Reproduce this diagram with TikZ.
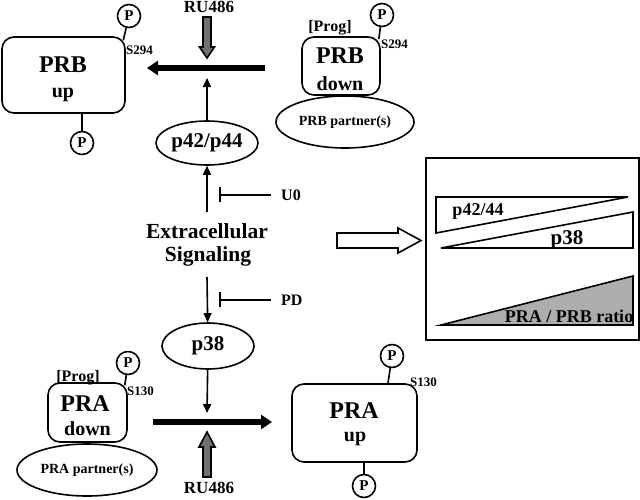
\documentclass[tikz,border=0pt]{standalone}
\usepackage{fontspec}
\setmainfont{Liberation Serif}
\usetikzlibrary{arrows.meta,shapes.geometric}
\newcommand\fsz[1]{\fontsize{#1}{#1}\selectfont\bfseries}
\definecolor{rugray}{HTML}{707070}
\definecolor{trigray}{HTML}{ADADAD}
\begin{document}
\begin{tikzpicture}[x=1pt,y=-1pt,
  lw/.style={line width=1.6pt},
  pbox/.style={draw,lw,rounded corners=12pt,inner sep=0pt},
  pell/.style={draw,lw,ellipse,inner sep=0pt},
  pcirc/.style={draw,lw,circle,minimum size=23pt,inner sep=0pt,font=\fsz{15}},
  txt/.style={inner sep=1pt,anchor=base},
  thinarr/.style={lw,-{Triangle[length=9pt,width=8pt]}},
  thickarr/.style={line width=5.5pt,-{Triangle[length=11pt,width=14pt]}},
  inh/.style={line width=1.7pt,-{Bar[width=15pt]}},
  fatarr/.style={draw,lw,fill=rugray,line join=miter}]
\useasboundingbox (0,0) rectangle (640,499);

% ---------- PRB up ----------
\node[pbox,minimum width=123pt,minimum height=76pt] (PRBup) at (63.5,75) {};
\node[txt,font=\fsz{24}] (PRBupT) at (63,72) {PRB};
\node[txt,font=\fsz{20}] (PRBupU) at (63,97) {up};
\node[pcirc] (pb1) at (129,16) {P};
\node[pcirc] (pb2) at (82,143) {P};
\draw[lw] (pb1) -- ([xshift=-2.5pt,yshift=-4pt]PRBup.north east);
\draw[lw] (pb2) -- (pb2 |- PRBup.south);
\node[txt,anchor=base west,font=\fsz{13}] (s1) at (125,54) {S294};

% ---------- PRB down ----------
\node[pbox,minimum width=78pt,minimum height=58pt] (PRBdown) at (341,66) {};
\node[txt,font=\fsz{24}] (PRBdT) at (340,63) {PRB};
\node[txt,font=\fsz{20}] (PRBdD) at (340,90) {down};
\node[txt,font=\fsz{16}] (prog1) at (330,31) {[Prog]};
\node[pcirc] (pb3) at (382,15) {P};
\draw[lw] (pb3) -- ([xshift=-2pt,yshift=-3pt]PRBdown.north east);
\node[txt,anchor=base west,font=\fsz{13}] (s2) at (380,48) {S294};
\node[pell,minimum width=138pt,minimum height=52pt,font=\fsz{14}] (PRBpart) at (345,122) {PRB partner(s)};

% ---------- top signalling ----------
\node[txt,font=\fsz{17}] (ru1) at (209,12) {RU486};
\draw[fatarr] (203,17) -- (211,17) -- (211,47) -- (214.5,47) -- (207,58) -- (199.5,47) -- (203,47) -- cycle;
\coordinate (tR) at (265,68);
\coordinate (tL) at (147,68);
\draw[thickarr] (tR) -- (tL);
\coordinate (jT) at (207,78);
\node[pell,minimum width=102pt,minimum height=44pt,font=\fsz{21}] (p42) at (207,143) {p42/p44};
\draw[thinarr] (p42) -- (jT);
\coordinate (eTop) at (207,212);
\draw[thinarr] (eTop) -- (p42);
\node[txt,anchor=base west,font=\fsz{16}] (U0) at (280,200) {U0};
\coordinate (u0b) at (219,192);
\draw[inh,shorten <=9pt] (U0.west) -- (U0.west -| u0b);

\node[txt,font=\fsz{21.5}] (ext1) at (207,238) {Extracellular};
\node[txt,font=\fsz{21.5}] (ext2) at (208,261) {Signaling};

% ---------- bottom signalling ----------
\coordinate (eBot) at (207,277);
\node[pell,minimum width=92pt,minimum height=46pt,font=\fsz{21}] (p38) at (208,346) {p38};
\draw[thinarr] (eBot) -- (p38);
\node[txt,anchor=base west,font=\fsz{16}] (PD) at (280,305) {PD};
\coordinate (pdb) at (219,300);
\draw[inh,shorten <=9pt] (PD.west) -- (PD.west -| pdb);
\coordinate (jB) at (207,413);
\draw[thinarr] (p38) -- (jB);
\coordinate (bL) at (153,422);
\coordinate (bR) at (272,422);
\draw[thickarr] (bL) -- (bR);
\draw[fatarr] (203,477) -- (211,477) -- (211,447) -- (215,447) -- (207,432) -- (199,447) -- (203,447) -- cycle;
\node[txt,font=\fsz{17}] (ru2) at (209,493) {RU486};

% ---------- PRA down ----------
\node[pbox,minimum width=79pt,minimum height=59pt] (PRAdown) at (87.5,412.5) {};
\node[txt,font=\fsz{24}] (PRAdT) at (85,411) {PRA};
\node[txt,font=\fsz{20}] (PRAdD) at (87.5,435) {down};
\node[txt,font=\fsz{16}] (prog2) at (78,381) {[Prog]};
\node[pcirc] (pa1) at (128,363) {P};
\draw[lw] (pa1) -- ([xshift=-3pt,yshift=-3pt]PRAdown.north east);
\node[txt,anchor=base west,font=\fsz{13}] (s3) at (126,395) {S130};
\node[pell,minimum width=140pt,minimum height=52pt,font=\fsz{14}] (PRApart) at (87,470) {PRA partner(s)};

% ---------- PRA up ----------
\node[pbox,minimum width=125pt,minimum height=78pt] (PRAup) at (354.5,423) {};
\node[txt,font=\fsz{24}] (PRAuT) at (354,418) {PRA};
\node[txt,font=\fsz{20}] (PRAuU) at (355,441) {up};
\node[pcirc] (pa2) at (392,356) {P};
\node[pcirc] (pa3) at (364,486) {P};
\draw[lw] (pa2) -- ([xshift=33.5pt]PRAup.north);
\draw[lw] (pa3) -- (pa3 |- PRAup.south);
\node[txt,anchor=base west,font=\fsz{13}] (s4) at (409,386) {S130};

% ---------- summary panel ----------
\draw[lw] (337,233) -- (398,233) -- (398,228) -- (421,240.5) -- (398,253) -- (398,248) -- (337,248) -- cycle;
\draw[line width=1.8pt] (426,158) rectangle (639,340);
\draw[lw,line join=miter] (436,197) -- (628,197) -- (436,233) -- cycle;
\draw[lw,line join=miter] (441,248) -- (633,212) -- (633,248) -- cycle;
\draw[lw,fill=trigray,line join=miter] (441,325) -- (633,276) -- (633,325) -- cycle;
\node[txt,font=\fsz{18}] (lab1) at (478,215) {p42/44};
\node[txt,font=\fsz{21}] (lab2) at (567,244) {p38};
\node[txt,font=\fsz{18}] (lab3) at (569,322) {PRA / PRB ratio};
\end{tikzpicture}
\end{document}
